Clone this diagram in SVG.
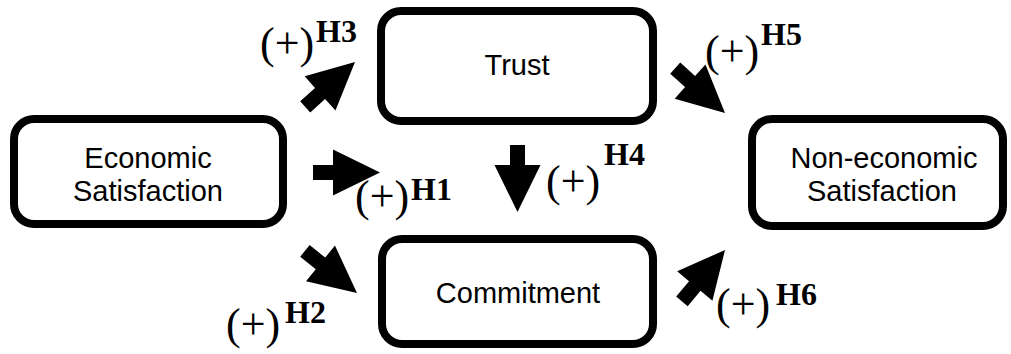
<svg xmlns="http://www.w3.org/2000/svg" width="1011" height="354" viewBox="0 0 1011 354">
<style>
.box{fill:#fff;stroke:#000;stroke-width:8}
.nt{font-family:"Liberation Sans",Arial,sans-serif;font-size:29px;fill:#000;text-anchor:middle}
.lb{font-family:"Liberation Serif","Times New Roman",serif;font-size:44px;fill:#000}
.sup{font-size:32px;font-weight:bold}
.arr{fill:#000}
</style>
<defs>
<path id="arrow" d="M0,0 L-47,-23 L-47,-7.5 L-67,-7.5 L-67,7.5 L-47,7.5 L-47,23 Z"/>
</defs>
<rect width="1011" height="354" fill="#fff"/>
<g id="economic">
<rect class="box" x="14" y="119" width="269" height="105" rx="20"/>
<text class="nt" x="148" y="168">Economic</text>
<text class="nt" x="148" y="201">Satisfaction</text>
</g>
<g id="trust">
<rect class="box" x="381" y="11" width="272" height="110" rx="20"/>
<text class="nt" x="517" y="75">Trust</text>
</g>
<g id="commitment">
<rect class="box" x="382" y="239" width="271" height="105" rx="20"/>
<text class="nt" x="518" y="303">Commitment</text>
</g>
<g id="noneconomic">
<rect class="box" x="752" y="119" width="251" height="107" rx="20"/>
<text class="nt" x="884" y="168">Non-economic</text>
<text class="nt" x="882" y="201">Satisfaction</text>
</g>
<g id="connectors">
<g id="h1">
<use href="#arrow" class="arr" transform="translate(380,172.5)"/>
<text class="lb"><tspan x="355" y="211">(+)</tspan><tspan class="sup" x="411" y="200">H1</tspan></text>
</g>
<g id="h2">
<use href="#arrow" class="arr" transform="translate(357,293) rotate(39)"/>
<text class="lb"><tspan x="226" y="339">(+)</tspan><tspan class="sup" x="285" y="323">H2</tspan></text>
</g>
<g id="h3">
<use href="#arrow" class="arr" transform="translate(355,62) rotate(-42)"/>
<text class="lb"><tspan x="260" y="58">(+)</tspan><tspan class="sup" x="316" y="42">H3</tspan></text>
</g>
<g id="h4">
<use href="#arrow" class="arr" transform="translate(517.5,212) rotate(90)"/>
<text class="lb"><tspan x="546" y="196">(+)</tspan><tspan class="sup" x="604" y="165">H4</tspan></text>
</g>
<g id="h5">
<use href="#arrow" class="arr" transform="translate(725,113) rotate(42)"/>
<text class="lb"><tspan x="705" y="66">(+)</tspan><tspan class="sup" x="761" y="45">H5</tspan></text>
</g>
<g id="h6">
<use href="#arrow" class="arr" transform="translate(725,250) rotate(-50)"/>
<text class="lb"><tspan x="716" y="319">(+)</tspan><tspan class="sup" x="776" y="305">H6</tspan></text>
</g>
</g>
</svg>
